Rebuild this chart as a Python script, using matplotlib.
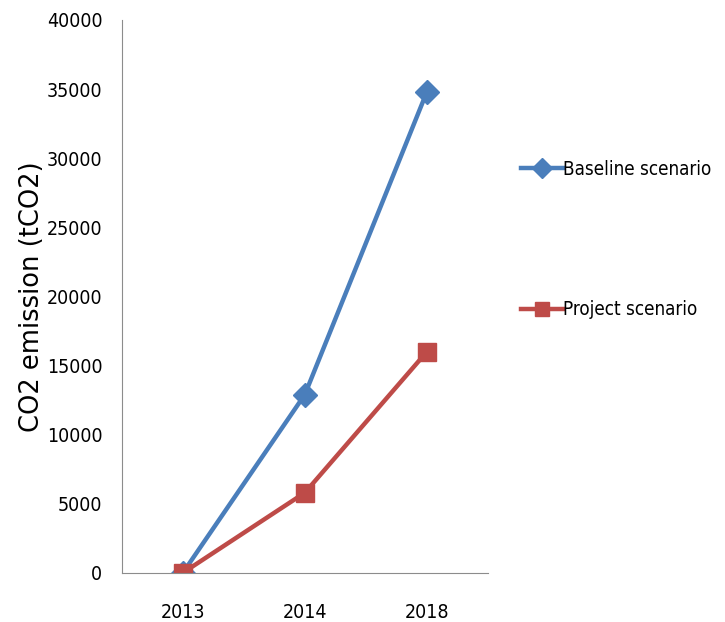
import numpy as np
import matplotlib
matplotlib.use('Agg')
import matplotlib.pyplot as plt

years = ['2013', '2014', '2018']
baseline = [0, 12900, 34800]
project = [0, 5800, 16000]

narrow = {'family': 'DejaVu Sans', 'stretch': 'condensed', 'size': 14}
legend_font = {'family': 'DejaVu Sans', 'stretch': 'condensed', 'size': 13.5}

fig = plt.figure(figsize=(7.25, 6.22), dpi=100)
ax = fig.add_axes([0.168, 0.079, 0.505, 0.889])

x = np.arange(len(years))
ax.plot(x, baseline, color='#4A7EBB', lw=3.2, marker='D', markersize=12.5,
        label='Baseline scenario')
ax.plot(x, project, color='#BE4B48', lw=3.2, marker='s', markersize=13,
        label='Project scenario')

ax.set_xlim(-0.5, 2.5)
ax.set_ylim(0, 40000)
ax.set_yticks(np.arange(0, 40001, 5000))
ax.set_xticks(x)
ax.set_xticklabels(years)
for lab in ax.get_xticklabels() + ax.get_yticklabels():
    lab.set_fontproperties(narrow)
ax.tick_params(length=0, pad=14)
ax.tick_params(axis='x', pad=22)

for s in ['top', 'right']:
    ax.spines[s].set_visible(False)
for s in ['left', 'bottom']:
    ax.spines[s].set_color('#8c8c8c')
ax.set_ylabel('CO2 emission (tCO2)', fontsize=18.5)
ax.yaxis.set_label_coords(-0.21, 0.5)

# legend sits to the right of the axes, entries far apart like the original
leg = ax.legend(loc='upper left', bbox_to_anchor=(1.045, 0.778), frameon=False,
                prop=legend_font, labelspacing=6.5, markerscale=0.8,
                handlelength=2.2, handletextpad=0.05)

fig.savefig('out.png', dpi=100)
